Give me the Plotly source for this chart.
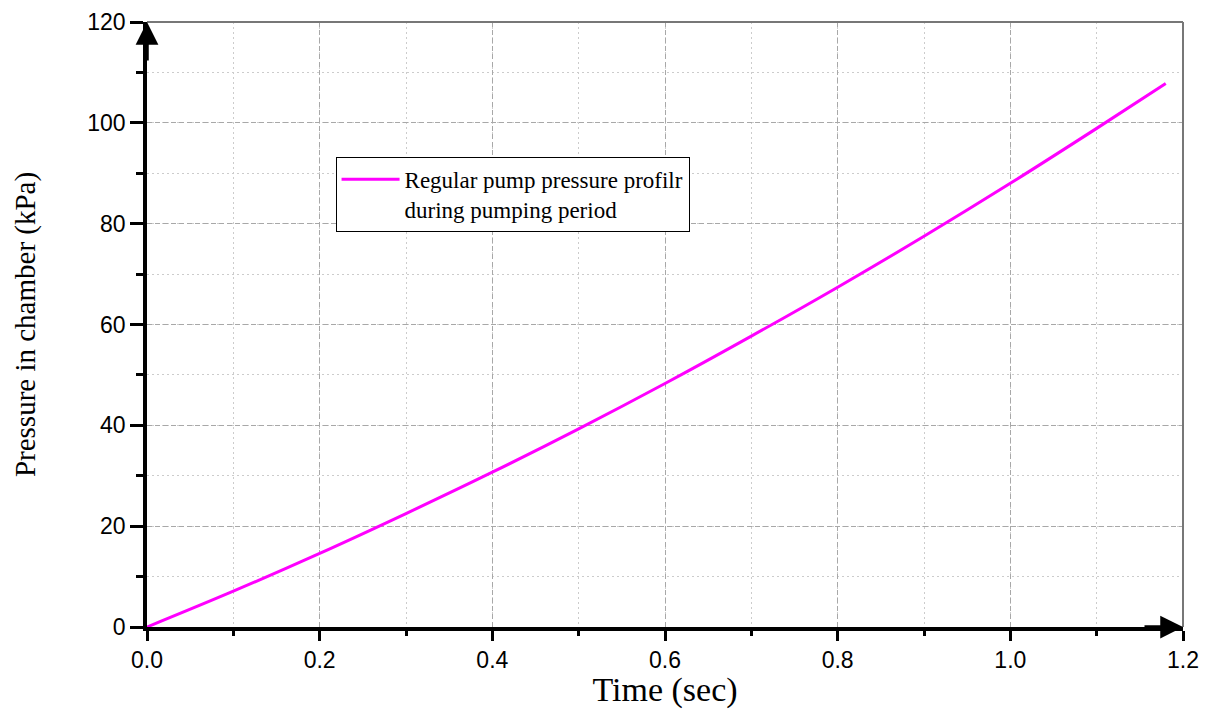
import plotly.graph_objects as go

# Data
time_sec = [0.0, 0.1, 0.2, 0.3, 0.4, 0.5, 0.6, 0.7, 0.8, 0.9, 1.0, 1.1, 1.18]
pressure_kpa = [0.0, 7.1, 14.6, 22.5, 30.7, 39.3, 48.3, 57.7, 67.4, 77.5, 88.0, 98.9, 107.8]
series_name = "Regular pump pressure profilr<br>during pumping period"
x_ticks = [0.0, 0.2, 0.4, 0.6, 0.8, 1.0, 1.2]
y_ticks = [0, 20, 40, 60, 80, 100, 120]

fig = go.Figure()
fig.add_trace(go.Scatter(
    x=time_sec, y=pressure_kpa, mode="lines", name=series_name,
    line=dict(color="#FF00FF", width=3, shape="spline"),
))

tick_font = dict(family="Liberation Sans, Arial, sans-serif", size=23, color="black")
title_family = "Liberation Serif, Times New Roman, serif"

major_dash = "5px,3px"
minor_dash = "2px,3px"

fig.update_layout(
    width=1211, height=701,
    margin=dict(l=139, r=36, t=14, b=82, autoexpand=False),
    plot_bgcolor="white", paper_bgcolor="white",
    showlegend=True,
    legend=dict(
        x=0.182, y=0.777, xanchor="left", yanchor="top",
        bgcolor="white", bordercolor="black", borderwidth=1,
        font=dict(family=title_family, size=23, color="black"),
        valign="top", tracegroupgap=0, itemwidth=58,
    ),
    xaxis=dict(
        range=[0, 1.2], tickvals=x_ticks, ticktext=[f"{v:.1f}" for v in x_ticks],
        showline=True, linecolor="black", linewidth=3.5, zeroline=False,
        ticks="outside", ticklen=10, tickwidth=3, tickcolor="black",
        tickfont=tick_font, automargin=False,
        showgrid=True, gridcolor="#a8a8a8", griddash=major_dash, gridwidth=1,
        minor=dict(dtick=0.1, tick0=0, ticks="outside", ticklen=5, tickwidth=3, tickcolor="black",
                   showgrid=True, gridcolor="#cccccc", griddash=minor_dash, gridwidth=1),
        title=dict(text="Time (sec)", font=dict(size=34, family=title_family, color="black"), standoff=4),
    ),
    yaxis=dict(
        range=[0, 120], tickvals=y_ticks,
        showline=True, linecolor="black", linewidth=3.5, zeroline=False,
        ticks="outside", ticklen=13, tickwidth=3, tickcolor="black",
        tickfont=tick_font, automargin=False,
        showgrid=True, gridcolor="#a8a8a8", griddash=major_dash, gridwidth=1,
        minor=dict(dtick=10, tick0=0, ticks="outside", ticklen=7, tickwidth=3, tickcolor="black",
                   showgrid=True, gridcolor="#cccccc", griddash=minor_dash, gridwidth=1),
        title=dict(text="Pressure in chamber (kPa)", font=dict(size=29, family=title_family, color="black"), standoff=44),
    ),
    shapes=[
        dict(type="line", xref="x domain", yref="y domain", x0=0, x1=1, y0=1, y1=1,
             line=dict(color="#777777", width=2)),
        dict(type="line", xref="x domain", yref="y domain", x0=1, x1=1, y0=0, y1=1,
             line=dict(color="#777777", width=2)),
    ],
    annotations=[
        dict(x=0, y=120, xref="x", yref="y", ax=0, ay=40, text="", showarrow=True,
             arrowhead=2, arrowsize=1.3, arrowwidth=3.5, arrowcolor="black", standoff=0),
        dict(x=1.2, y=0, xref="x", yref="y", ax=-40, ay=0, text="", showarrow=True,
             arrowhead=2, arrowsize=1.3, arrowwidth=3.5, arrowcolor="black", standoff=0),
    ],
)

fig.write_html("out.html")
